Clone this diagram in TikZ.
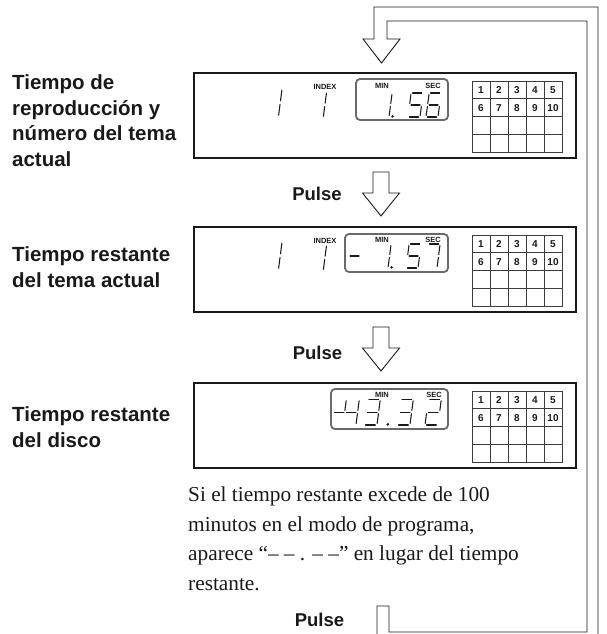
\documentclass[tikz,border=0pt]{standalone}
\usepackage{fontspec}
\setmainfont{Liberation Serif}
\setsansfont{Liberation Sans}
\usetikzlibrary{
    positioning,
    calc
}
\definecolor{WindowGray}{RGB}{105,105,105}
\definecolor{InkBlack}{RGB}{25,25,25}

% segments of one digit, local frame 12 x 24, origin bottom left
\newcommand{\sA}{\draw[seg] (1.5,24) -- (10.5,24);}
\newcommand{\sB}{\draw[seg] (12,22.5) -- (12,13.5);}
\newcommand{\sC}{\draw[seg] (12,10.5) -- (12,1.5);}
\newcommand{\sD}{\draw[seg] (1.5,0) -- (10.5,0);}
\newcommand{\sE}{\draw[seg] (0,1.5) -- (0,10.5);}
\newcommand{\sF}{\draw[seg] (0,13.5) -- (0,22.5);}
\newcommand{\sG}{\draw[seg] (1.5,12) -- (10.5,12);}
\newcommand{\sDot}{\fill[InkBlack] (15.5,0.6) circle (1.4);}
\newcommand{\digit}[4][]{%
    \begin{scope}[shift={(#2,#3)}, x=1pt, y=1pt, xslant=0.13, #1]
        #4
    \end{scope}}

% one panel with its track grid
\newcommand{\panel}[2]{%
    \node[panel, anchor=north west] (#1) at (194,#2) {};
    \foreach \c in {0,...,4}
        \foreach \r in {0,...,3}
            \draw[cell] ({472+18*\c},{#2+8+17.75*\r}) rectangle ++(18,17.75);
    \foreach \n [evaluate=\n as \c using {int(mod(\n-1,5))},
                 evaluate=\n as \r using {int((\n-1)/5)}] in {1,...,10}
        \node[cellnum] at ({481+18*\c},{#2+16.9+17.75*\r}) {\n};
}

\newcommand{\pulsearrow}[1]{%
    \draw[hollow] (373,#1) -- (389,#1) -- (389,#1+21) -- (399.5,#1+21)
        -- (381,#1+44) -- (362.5,#1+21) -- (373,#1+21) -- cycle;
}

\begin{document}
\begin{tikzpicture}[
    x=1pt, y=-1pt,
    seg/.style={InkBlack, line width=1.05pt, line cap=round},
    panel/.style={draw=InkBlack, line width=1.6pt, minimum width=382pt,
        minimum height=85pt, inner sep=0pt, outer sep=0pt},
    cell/.style={draw=InkBlack!85, line width=0.6pt},
    cellnum/.style={font=\sffamily\bfseries\fontsize{10}{12}\selectfont,
        text=InkBlack, inner sep=0pt},
    window/.style={draw=WindowGray, line width=1.8pt, rounded corners=4pt},
    tag/.style={font=\sffamily\bfseries\fontsize{7.5}{8}\selectfont,
        text=InkBlack, inner sep=0pt, anchor=base},
    hollow/.style={draw=InkBlack, fill=white, line width=0.9pt, line join=miter},
    lbl/.style={font=\sffamily\bfseries\fontsize{20.5}{25.5}\selectfont,
        text=InkBlack, align=left, inner sep=0pt, anchor=base west},
    pulse/.style={font=\sffamily\bfseries\fontsize{18.5}{22}\selectfont,
        text=InkBlack, inner sep=0pt, anchor=base},
    note/.style={font=\rmfamily\fontsize{21.3}{29.5}\selectfont,
        text=InkBlack, align=left, inner sep=0pt, anchor=base west}
]
\useasboundingbox (0,0) rectangle (607,634);

% return loop
\begin{scope}
    \clip (0,0) rectangle (607,634);
    \draw[hollow] (363,39) -- (381.5,63) -- (400,39) -- (387,39) -- (387,21)
        -- (587,21) -- (587,632) -- (389,632) -- (389,606) -- (377,606)
        -- (377,650) -- (598,650) -- (598,7) -- (374,7) -- (374,39) -- cycle;
\end{scope}

% panels
\panel{play}{73}
\panel{trackleft}{227}
\panel{discleft}{383}

% panel 1: 1  1  1.56
\digit[scale=1.2]{264}{117}{\sB\sC}
\node[tag] (index1) at (325,89) {INDEX};
\digit[scale=1.1]{310}{118}{\sB\sC}
\draw[window] (356,79) rectangle (448,120);
\node[tag] at (382,88.5) {MIN};
\node[tag] at (433,88.5) {SEC};
\digit{377}{117}{\sB\sC\sDot}
\digit{408}{117}{\sA\sF\sG\sC\sD}
\digit{426}{117}{\sA\sF\sG\sE\sD\sC}

% panel 2: 1  1  -1.57
\digit[scale=1.2]{264}{270}{\sB\sC}
\node[tag] (index2) at (325,243) {INDEX};
\digit[scale=1.1]{310}{271}{\sB\sC}
\draw[window] (345,234) rectangle (448,272);
\node[tag] at (382,242) {MIN};
\node[tag] at (433,242) {SEC};
\digit{347}{268}{\sG}
\digit{376}{268}{\sB\sC\sDot}
\digit{406}{268}{\sA\sF\sG\sC\sD}
\digit{425}{268}{\sA\sB\sC}

% panel 3: -43.32
\draw[window] (331,389) rectangle (448,429);
\node[tag] at (382,397.5) {MIN};
\node[tag] at (434,397.5) {SEC};
\digit[scale=1.08]{331}{425}{\sG}
\digit[scale=1.08]{343}{425}{\sF\sG\sB\sC}
\digit[scale=1.08]{364}{425}{\sA\sB\sG\sC\sD}
\digit[scale=1.08]{371}{425}{\sDot}
\digit[scale=1.08]{397}{425}{\sA\sB\sG\sC\sD}
\digit[scale=1.08]{425}{425}{\sA\sB\sG\sE\sD}

% steps
\pulsearrow{172}
\pulsearrow{327}
\node[pulse] (pulse1) at (317,200) {Pulse};
\node[pulse] (pulse2) at (317.5,359) {Pulse};
\node[pulse] (pulse3) at (319.5,626) {Pulse};

% captions (anchored on the last line)
\node[lbl] (cap1) at (12,166) {Tiempo de\\reproducción y\\número del tema\\actual};
\node[lbl] (cap2) at (12,287) {Tiempo restante\\del tema actual};
\node[lbl] (cap3) at (12,447) {Tiempo restante\\del disco};

\node[note] (remark) at (188,590) {Si el tiempo restante excede de 100\\
    minutos en el modo de programa,\\
    aparece “– – . – –” en lugar del tiempo\\
    restante.};

\end{tikzpicture}
\end{document}
